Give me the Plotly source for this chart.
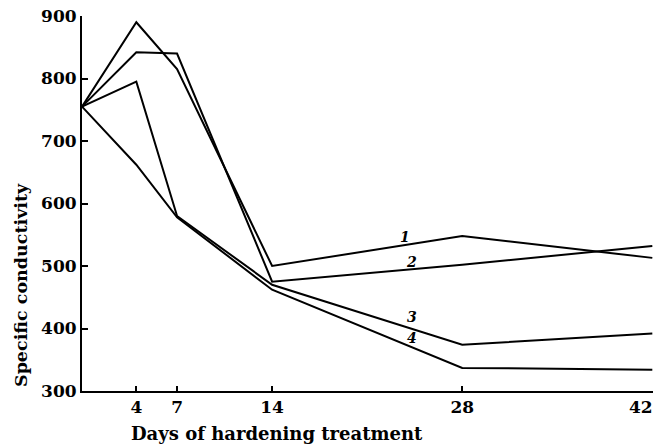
import plotly.graph_objects as go

days = [0, 4, 7, 14, 28, 42]
series_1 = [755, 890, 815, 500, 548, 513]
series_2 = [755, 842, 840, 475, 502, 532]
series_3 = [755, 795, 580, 470, 374, 392]
series_4 = [755, 662, 578, 462, 337, 334]
series_names = ["1", "2", "3", "4"]
label_pos_x = [23.8, 24.3, 24.3, 24.3]
label_pos_y = [546, 506, 418, 385]

y_ticks = [300, 400, 500, 600, 700, 800, 900]
x_ticks = [4, 7, 14, 28, 42]

FONT = "DejaVu Serif"

fig = go.Figure()
for name, ys in zip(series_names, [series_1, series_2, series_3, series_4]):
    fig.add_trace(go.Scatter(x=days, y=ys, mode="lines", name=name,
                             line=dict(color="black", width=2),
                             showlegend=False, hoverinfo="skip"))

for name, lx, ly in zip(series_names, label_pos_x, label_pos_y):
    fig.add_annotation(x=lx, y=ly, text="<b><i>" + name + "</i></b>", showarrow=False,
                       font=dict(family=FONT, size=14, color="black"))

fig.add_annotation(xref="paper", yref="paper", x=(277 - 82) / 571, y=-(433 - 391) / 375,
                   xanchor="center", yanchor="middle",
                   text="<b>Days of hardening treatment</b>", showarrow=False,
                   font=dict(family=FONT, size=18, color="black"))
fig.add_annotation(xref="paper", yref="paper", x=-(82 - 21) / 571, y=(391 - 285) / 375,
                   xanchor="center", yanchor="middle",
                   text="<b>Specific conductivity</b>", showarrow=False, textangle=-90,
                   font=dict(family=FONT, size=17.5, color="black"))

# last tick label sits flush with the right edge, as in the reference
last_tick = x_ticks[-1]
fig.add_annotation(x=last_tick, xref="x", yref="paper", y=-(407 - 391) / 375,
                   xanchor="right", yanchor="middle", xshift=3,
                   text="<b>%d</b>" % last_tick, showarrow=False,
                   font=dict(family=FONT, size=17, color="black"))

fig.update_layout(
    width=656, height=447,
    margin=dict(l=82, r=3, t=16, b=56),
    paper_bgcolor="white", plot_bgcolor="white",
    font=dict(family=FONT, size=17, color="black"),
    xaxis=dict(range=[0, 42.05], tickvals=x_ticks,
               ticktext=["<b>%d</b>" % v if v != last_tick else "" for v in x_ticks],
               showline=True, linecolor="black", linewidth=2, showgrid=False, zeroline=False,
               ticks="inside", ticklen=5, tickcolor="black", tickwidth=1.5,
               ticklabeloverflow="allow", automargin=False,
               tickfont=dict(family=FONT, size=17, color="black")),
    yaxis=dict(range=[300, 900], tickvals=y_ticks, ticktext=["<b>%d</b>" % v for v in y_ticks],
               showline=True, linecolor="black", linewidth=2, showgrid=False, zeroline=False,
               ticks="inside", ticklen=6, tickcolor="black", tickwidth=1.5,
               ticklabeloverflow="allow", automargin=False,
               tickfont=dict(family=FONT, size=17, color="black")),
)

fig.write_html("out.html", config={"displayModeBar": False},
               post_script="document.body.style.margin='0';")
